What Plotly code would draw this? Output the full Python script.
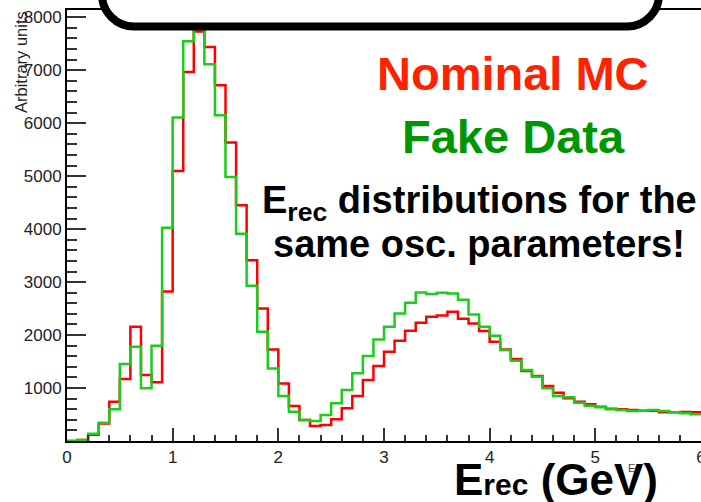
import plotly.graph_objects as go

# Reconstructed-energy binning: 60 bins of 0.1 GeV from 0 to 6 GeV
bin_edges = [round(0.1 * i, 1) for i in range(61)]

# Bin contents (arbitrary units)
nominal_mc = [
    0, 20, 120, 330, 742, 1170, 2157, 1245, 1107, 2825,
    5100, 6968, 7730, 7440, 6717, 5635, 4450, 3415, 2503, 1730,
    1088, 660, 396, 283, 302, 409, 617, 849, 1151, 1415,
    1685, 1893, 2082, 2233, 2346, 2371, 2440, 2310, 2220, 2075,
    1874, 1730, 1547, 1321, 1226, 1038, 912, 805, 742, 692,
    648, 610, 598, 585, 572, 572, 541, 541, 547, 541,
]
fake_data = [
    0, 20, 138, 345, 598, 1453, 1780, 994, 1799, 4025,
    6107, 7547, 7790, 7113, 6151, 4987, 3915, 2930, 2063, 1371,
    849, 553, 396, 377, 490, 711, 962, 1277, 1604, 1918,
    2157, 2409, 2610, 2805, 2774, 2799, 2786, 2665, 2390, 2157,
    1987, 1717, 1516, 1340, 1214, 994, 849, 824, 723, 667,
    635, 598, 585, 566, 572, 585, 566, 541, 522, 503,
]

y_major = [0, 1000, 2000, 3000, 4000, 5000, 6000, 7000, 8000]
y_major_text = ["", "1000", "2000", "3000", "4000", "5000", "6000", "7000", "8000"]
y_minor = [v for v in range(0, 8200, 200) if v % 1000 != 0]
x_major = [0, 1, 2, 3, 4, 5, 6]
x_minor = [round(0.2 * i, 1) for i in range(31) if i % 5 != 0]

W, H = 701, 502
ML, MR, MT, MB = 67, 0, 10, 61
PW, PH = W - ML - MR, H - MT - MB

FONT = "Liberation Sans, Arial, Helvetica, sans-serif"


def px_x(p):
    return (p - ML) / PW


def px_y(p):
    return (H - MB - p) / PH


def step(vals):
    return bin_edges, list(vals) + [vals[-1]]


fig = go.Figure()
for name, vals, color in [("Nominal MC", nominal_mc, "#ff0000"),
                          ("Fake Data", fake_data, "#1ccc1c")]:
    xs, ys = step(vals)
    fig.add_trace(go.Scatter(x=xs, y=ys, mode="lines", name=name,
                             line=dict(shape="hv", color=color, width=2.5),
                             showlegend=False, hoverinfo="skip"))

# Rounded banner hanging from the top edge
L, R, B, T, r = px_x(102), px_x(659), px_y(26.5), px_y(-60), 32
rx, ry = r / PW, r / PH
k = 0.45
banner = (f"M {L},{T} L {L},{B + ry} "
          f"C {L},{B + ry * k} {L + rx * k},{B} {L + rx},{B} "
          f"L {R - rx},{B} "
          f"C {R - rx * k},{B} {R},{B + ry * k} {R},{B + ry} "
          f"L {R},{T} Z")

tickfont = dict(family=FONT, size=17, color="#222")

fig.update_layout(
    width=W, height=H,
    margin=dict(l=ML, r=MR, t=MT, b=MB, pad=0, autoexpand=False),
    paper_bgcolor="white", plot_bgcolor="white",
    xaxis=dict(range=[0, 6], tickmode="array", tickvals=x_major,
               ticks="inside", ticklen=13, tickwidth=1.5, tickcolor="#333",
               minor=dict(tickmode="array", tickvals=x_minor, ticks="inside",
                          ticklen=6, tickwidth=1.5, tickcolor="#333"),
               showline=True, linecolor="black", linewidth=2, mirror=True,
               showgrid=False, zeroline=False, ticklabeloverflow="allow",
               automargin=False, tickfont=tickfont),
    yaxis=dict(range=[0, 8138], tickmode="array", tickvals=y_major,
               ticktext=y_major_text,
               ticks="inside", ticklen=19, tickwidth=1.5, tickcolor="#333",
               minor=dict(tickmode="array", tickvals=y_minor, ticks="inside",
                          ticklen=10, tickwidth=1.5, tickcolor="#333"),
               showline=True, linecolor="black", linewidth=2, mirror=True,
               showgrid=False, zeroline=False, ticklabeloverflow="allow",
               automargin=False, tickfont=tickfont),
    shapes=[dict(type="path", xref="paper", yref="paper", path=banner,
                 line=dict(color="black", width=8), fillcolor="white",
                 layer="above")],
)


def note(text, x, y, size, color="black", xanchor="center", yanchor="middle",
         angle=0):
    fig.add_annotation(text=text, x=px_x(x), y=px_y(y), xref="paper",
                       yref="paper", showarrow=False, xanchor=xanchor,
                       yanchor=yanchor, textangle=angle,
                       font=dict(family=FONT, size=size, color=color))


note("<b>Nominal MC</b>", 513, 73, 47, "#ff2200")
note("<b>Fake Data</b>", 513, 136, 47, "#009600")
note("<b>E<sub>rec</sub> distributions for the</b>", 480, 203, 38)
note("<b>same osc. parameters!</b>", 479, 244, 38)
note('<b>E<span style="font-size:30px">rec</span> (GeV)</b>', 660, 479, 44,
     xanchor="right")
note("E", 631, 468, 11, "#444")
note("Arbitrary units", 21, 9, 16.5, "#222", yanchor="top", angle=-90)

fig.write_html("out.html")
